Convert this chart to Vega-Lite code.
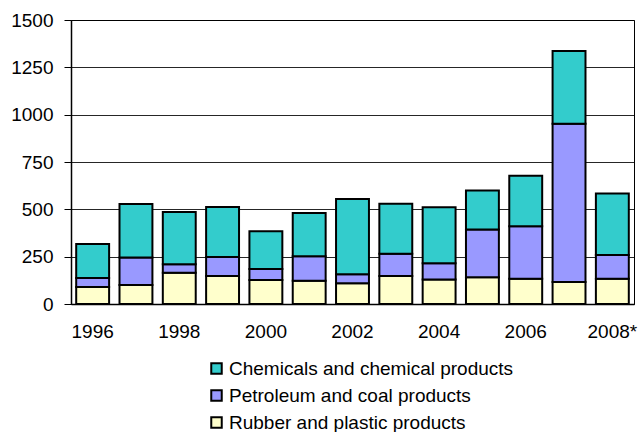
{
  "$schema": "https://vega.github.io/schema/vega-lite/v6.json",
  "width": 563,
  "height": 284,
  "autosize": {"type": "none"},
  "padding": {"left": 71, "top": 20, "right": 6, "bottom": 128},
  "background": "white",
  "config": {
    "font": "Liberation Sans",
    "view": {"stroke": "#000", "strokeWidth": 1}
  },
  "data": {
    "values": [
      {"year": "1996", "category": "Rubber and plastic products", "value": 90},
      {"year": "1996", "category": "Petroleum and coal products", "value": 47},
      {"year": "1996", "category": "Chemicals and chemical products", "value": 180},
      {"year": "1997", "category": "Rubber and plastic products", "value": 100},
      {"year": "1997", "category": "Petroleum and coal products", "value": 146},
      {"year": "1997", "category": "Chemicals and chemical products", "value": 282},
      {"year": "1998", "category": "Rubber and plastic products", "value": 165},
      {"year": "1998", "category": "Petroleum and coal products", "value": 45},
      {"year": "1998", "category": "Chemicals and chemical products", "value": 276},
      {"year": "1999", "category": "Rubber and plastic products", "value": 148},
      {"year": "1999", "category": "Petroleum and coal products", "value": 100},
      {"year": "1999", "category": "Chemicals and chemical products", "value": 264},
      {"year": "2000", "category": "Rubber and plastic products", "value": 127},
      {"year": "2000", "category": "Petroleum and coal products", "value": 58},
      {"year": "2000", "category": "Chemicals and chemical products", "value": 199},
      {"year": "2001", "category": "Rubber and plastic products", "value": 123},
      {"year": "2001", "category": "Petroleum and coal products", "value": 129},
      {"year": "2001", "category": "Chemicals and chemical products", "value": 229},
      {"year": "2002", "category": "Rubber and plastic products", "value": 109},
      {"year": "2002", "category": "Petroleum and coal products", "value": 48},
      {"year": "2002", "category": "Chemicals and chemical products", "value": 398},
      {"year": "2003", "category": "Rubber and plastic products", "value": 148},
      {"year": "2003", "category": "Petroleum and coal products", "value": 118},
      {"year": "2003", "category": "Chemicals and chemical products", "value": 264},
      {"year": "2004", "category": "Rubber and plastic products", "value": 130},
      {"year": "2004", "category": "Petroleum and coal products", "value": 85},
      {"year": "2004", "category": "Chemicals and chemical products", "value": 296},
      {"year": "2005", "category": "Rubber and plastic products", "value": 141},
      {"year": "2005", "category": "Petroleum and coal products", "value": 253},
      {"year": "2005", "category": "Chemicals and chemical products", "value": 206},
      {"year": "2006", "category": "Rubber and plastic products", "value": 134},
      {"year": "2006", "category": "Petroleum and coal products", "value": 276},
      {"year": "2006", "category": "Chemicals and chemical products", "value": 268},
      {"year": "2007", "category": "Rubber and plastic products", "value": 116},
      {"year": "2007", "category": "Petroleum and coal products", "value": 836},
      {"year": "2007", "category": "Chemicals and chemical products", "value": 384},
      {"year": "2008*", "category": "Rubber and plastic products", "value": 134},
      {"year": "2008*", "category": "Petroleum and coal products", "value": 125},
      {"year": "2008*", "category": "Chemicals and chemical products", "value": 324}
    ]
  },
  "mark": {"type": "bar", "stroke": "#000", "strokeWidth": 2, "strokeJoin": "miter"},
  "encoding": {
    "x": {
      "field": "year",
      "type": "ordinal",
      "sort": null,
      "scale": {"paddingInner": 0.24, "paddingOuter": 0.12},
      "axis": {
        "title": null,
        "values": ["1996", "1998", "2000", "2002", "2004", "2006", "2008*"],
        "labelAngle": 0,
        "labelFontSize": 19,
        "labelColor": "#000",
        "labelPadding": 18,
        "ticks": false,
        "domainColor": "#000",
        "domainWidth": 1.5
      }
    },
    "y": {
      "field": "value",
      "type": "quantitative",
      "stack": "zero",
      "scale": {"domain": [0, 1500], "nice": false},
      "axis": {
        "title": null,
        "values": [0, 250, 500, 750, 1000, 1250, 1500],
        "format": "d",
        "labelFontSize": 19,
        "labelColor": "#000",
        "labelPadding": 11,
        "tickSize": 7,
        "tickColor": "#000",
        "domainColor": "#000",
        "domainWidth": 1.5,
        "gridColor": "#000",
        "gridWidth": 1,
        "gridOpacity": 0.85
      }
    },
    "color": {
      "field": "category",
      "type": "nominal",
      "scale": {
        "domain": ["Chemicals and chemical products", "Petroleum and coal products", "Rubber and plastic products"],
        "range": ["#33CCCC", "#9999FF", "#FFFFCC"]
      },
      "legend": {
        "title": null,
        "orient": "none",
        "direction": "vertical",
        "legendX": 136,
        "legendY": 339,
        "padding": 0,
        "symbolType": "square",
        "symbolSize": 110,
        "symbolStrokeColor": "#000",
        "symbolStrokeWidth": 2,
        "symbolOpacity": 1,
        "labelFontSize": 19,
        "labelColor": "#000",
        "labelOffset": 3,
        "labelLimit": 400,
        "rowPadding": 7
      }
    },
    "order": {"field": "category", "sort": "descending"}
  }
}
